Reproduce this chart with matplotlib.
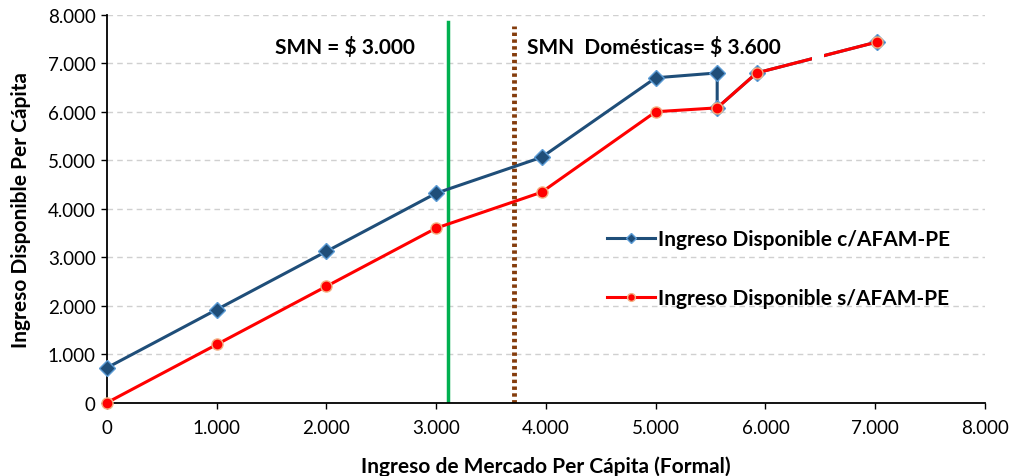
import matplotlib.pyplot as plt
from matplotlib.ticker import FuncFormatter

plt.rcParams['font.family'] = ['Lato', 'DejaVu Sans']

# Ingreso de mercado per capita (formal)
x_con = [0, 1000, 2000, 3000, 3960, 5000, 5560, 5560, 5920, 7020]
y_con = [720, 1920, 3120, 4320, 5060, 6700, 6800, 6080, 6800, 7440]

x_sin = [0, 1000, 2000, 3000, 3960, 5000, 5560, 5920, 7020]
y_sin = [0, 1200, 2400, 3600, 4340, 6000, 6080, 6800, 7440]

smn = 3110
smn_dom = 3710
ticks = [0, 1000, 2000, 3000, 4000, 5000, 6000, 7000, 8000]

fig = plt.figure(figsize=(10.12, 4.77), dpi=100)
ax = fig.add_axes([0.1057, 0.1537, 0.8676, 0.8133])

ax.grid(axis='y', color='#d0d0d0', linestyle=(0, (4, 3)), linewidth=1)
ax.set_axisbelow(True)

ax.plot([smn, smn], [0, 7840], color='#00b050', linewidth=2.5, zorder=2)
ax.plot([smn_dom, smn_dom], [0, 7760], color='#843c0c', linewidth=3.5,
        linestyle=(0, (0.7, 0.7)), zorder=2)

ax.plot(x_con, y_con, color='#1f4e79', linewidth=2.2, marker='D', markersize=8,
        markerfacecolor='#1f4e79', markeredgecolor='#5b9bd5', markeredgewidth=1,
        label='Ingreso Disponible c/AFAM-PE', clip_on=False, zorder=3)
ax.plot(x_sin, y_sin, color='#ff0000', linewidth=2.2, marker='o', markersize=8,
        markerfacecolor='#ff0000', markeredgecolor='#f4b183', markeredgewidth=1,
        label='Ingreso Disponible s/AFAM-PE', clip_on=False, zorder=4)

# empty white label box that hides part of the line in the original
ax.text(6480, 7140, '    ', fontsize=6, ha='center', va='center', zorder=5,
        bbox=dict(facecolor='white', edgecolor='none', pad=1))

ax.text(smn - 1580, 7350, 'SMN = $ 3.000', fontsize=15, fontweight='bold', va='center')
ax.text(smn_dom + 120, 7350, 'SMN  Domésticas= $ 3.600', fontsize=15, fontweight='bold',
        va='center')

ax.set_xlim(0, 8000)
ax.set_ylim(0, 8000)
ax.set_xticks(ticks)
ax.set_yticks(ticks)
fmt = FuncFormatter(lambda v, p: f'{int(v):,}'.replace(',', '.'))
ax.xaxis.set_major_formatter(fmt)
ax.yaxis.set_major_formatter(fmt)
ax.tick_params(axis='both', labelsize=13.5, length=4, width=1, color='black')
ax.tick_params(axis='x', pad=8)
ax.tick_params(axis='y', pad=4)

for s in ['top', 'right']:
    ax.spines[s].set_visible(False)
for s in ['left', 'bottom']:
    ax.spines[s].set_linewidth(1.3)
    ax.spines[s].set_color('black')

ax.set_xlabel('Ingreso de Mercado Per Cápita (Formal)', fontsize=15, fontweight='bold',
              labelpad=14)
ax.set_ylabel('Ingreso Disponible Per Cápita', fontsize=15, fontweight='bold', labelpad=12)

ax.legend(loc='upper left', bbox_to_anchor=(0.548, 0.495), frameon=False,
          prop={'size': 15, 'weight': 'bold'}, labelspacing=1.85, handlelength=2.3,
          handletextpad=0.15, markerscale=0.7)

fig.savefig('out.png', dpi=100)
